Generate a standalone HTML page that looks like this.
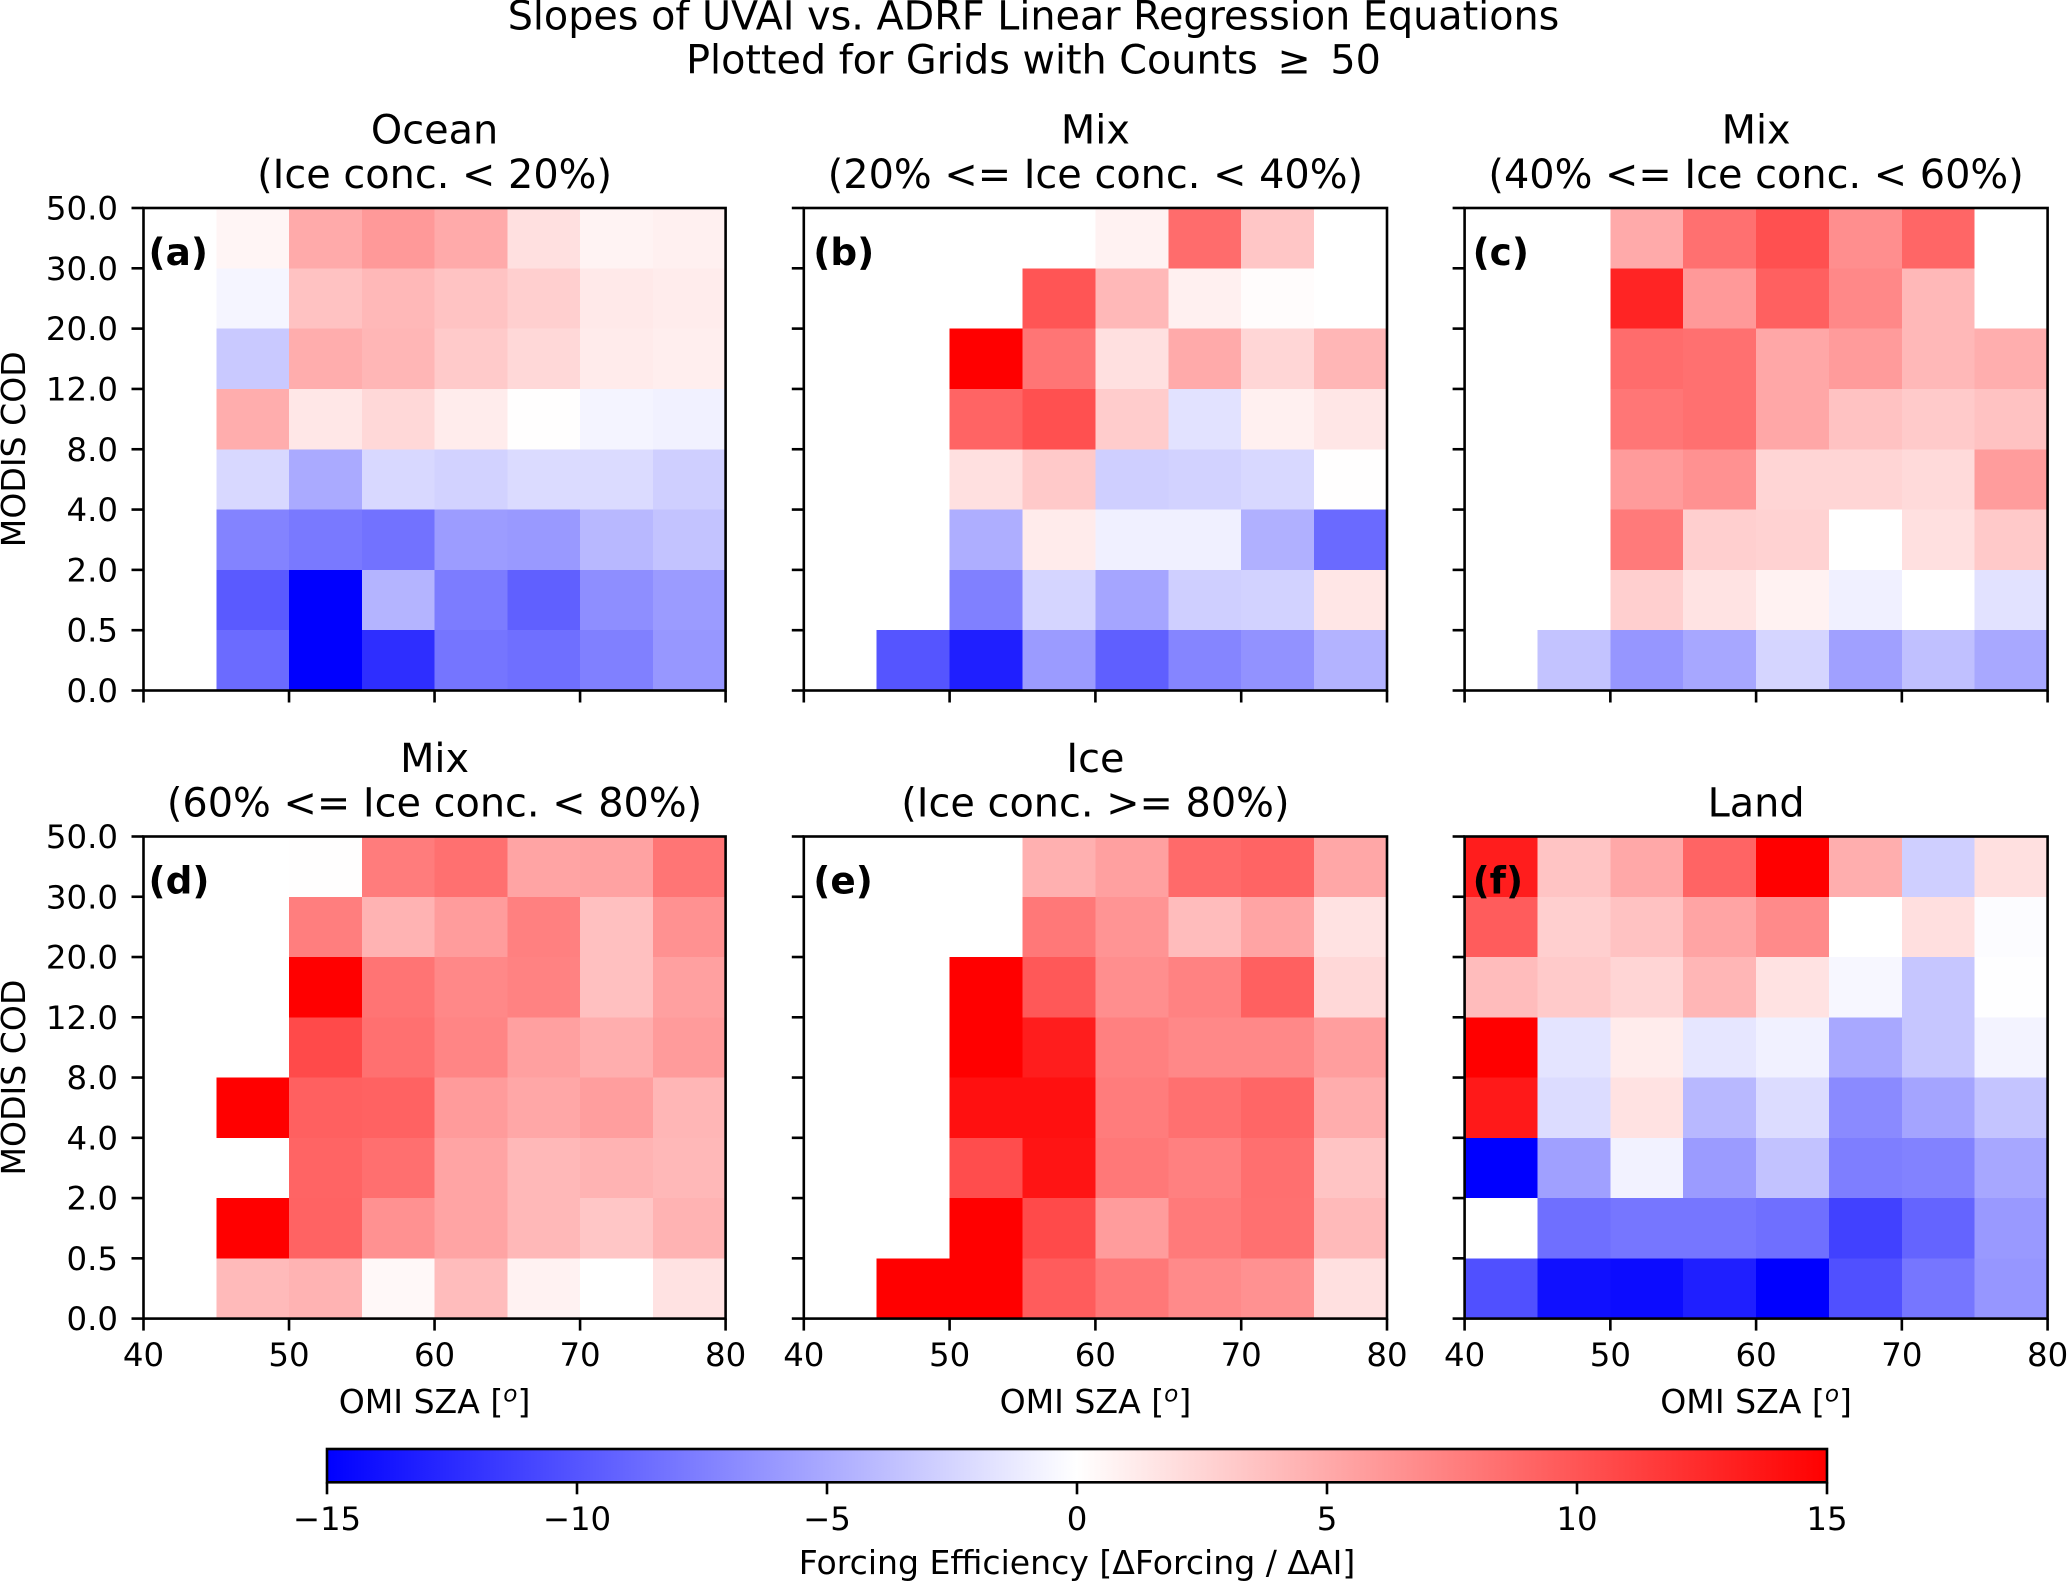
<!DOCTYPE html>
<html lang="en">
<head>
<meta charset="utf-8">
<title>Slopes of UVAI vs. ADRF Linear Regression Equations</title>
<style>
html,body{margin:0;padding:0;background:#fff;}
svg{display:block;font-family:"DejaVu Sans","Liberation Sans",sans-serif;fill:#000;}
</style>
</head>
<body>
<svg id="figure" xmlns="http://www.w3.org/2000/svg" width="2067" height="1582" viewBox="0 0 2067 1582">
  <rect x="0" y="0" width="2067" height="1582" fill="#fff"/>
  <text x="1033.5" y="29.5" font-size="39.7" text-anchor="middle">Slopes of UVAI vs. ADRF Linear Regression Equations</text>
  <text x="1033.5" y="73.5" font-size="39.7" text-anchor="middle">Plotted for Grids with Counts <tspan dx="7">≥</tspan> <tspan dx="7">50</tspan></text>
</svg>
<script>
const szaBins = [40, 45, 50, 55, 60, 65, 70, 75, 80];
const szaTicks = [40, 50, 60, 70, 80];
const codTicks = ['0.0', '0.5', '2.0', '4.0', '8.0', '12.0', '20.0', '30.0', '50.0'];
const colorbarTicks = [-15, -10, -5, 0, 5, 10, 15];
const _ = null;

// Each grid lists rows from the top COD bin (30-50) to the bottom COD bin (0-0.5).
const valuesOcean = [
  [_, 0.6, 5, 6, 5, 1.8, 0.7, 0.9],
  [_, -0.6, 3.6, 4.2, 3.5, 2.8, 1.3, 1.1],
  [_, -3.2, 4.8, 4.3, 3.1, 2.3, 1.2, 1],
  [_, 4.8, 1.4, 2.3, 1.1, 0.05, -0.65, -0.8],
  [_, -2.3, -5, -2.3, -2.65, -2.1, -2.1, -2.8],
  [_, -7.3, -7.9, -8.3, -5.8, -6, -4.2, -3.5],
  [_, -9.7, -15, -4.4, -7.7, -9.35, -6.65, -5.9],
  [_, -8.7, -15, -12.3, -8.1, -8.5, -7.5, -6.1]
];
const valuesMix2040 = [
  [_, _, _, _, 0.75, 8.65, 3.35, _],
  [_, _, _, 10, 4.2, 0.9, 0.2, _],
  [_, _, 15, 8.1, 1.8, 5, 2.4, 4.3],
  [_, _, 9.1, 10.3, 3, -1.7, 0.9, 1.5],
  [_, _, 1.8, 3.2, -2.8, -2.65, -2.3, 0.05],
  [_, _, -4.75, 1.2, -0.9, -0.9, -4.65, -8.75],
  [_, _, -7.5, -2.5, -5.3, -2.8, -2.65, 1.5],
  [_, -10, -13.2, -5.9, -9.4, -7.2, -6.4, -4.5]
];
const valuesMix4060 = [
  [_, _, 5, 8.4, 10.3, 6.65, 9, _],
  [_, _, 12.9, 6, 9.35, 7, 4.2, _],
  [_, _, 8.65, 8.4, 5.2, 5.9, 4.2, 4.75],
  [_, _, 8.05, 8.4, 5.2, 3.6, 3.1, 3.6],
  [_, _, 5.9, 6.5, 2.5, 2.5, 2.2, 5.8],
  [_, _, 7.8, 2.8, 2.65, 0, 1.8, 3.2],
  [_, _, 2.8, 1.65, 0.75, -0.9, 0, -1.7],
  [_, -3.5, -6.2, -5.2, -2.5, -5.6, -3.7, -5.1]
];
const valuesMix6080 = [
  [_, _, 0.05, 7.7, 8.4, 5.35, 5.45, 8.1],
  [_, _, 7.6, 4.5, 5.8, 7.5, 3.7, 6.5],
  [_, _, 15, 8.2, 7, 7.35, 3.7, 5.6],
  [_, _, 10.65, 8.4, 7.2, 5.6, 4.75, 5.9],
  [_, 15, 9.35, 9.25, 5.9, 5.2, 5.7, 4.3],
  [_, _, 9.1, 8.5, 5.35, 4.2, 4.5, 4.2],
  [_, 15, 9.2, 6.5, 5.35, 4.2, 3.35, 4.5],
  [_, 4.05, 4.5, 0.4, 3.95, 0.75, 0, 1.7]
];
const valuesIce = [
  [_, _, _, 4.65, 5.6, 8.75, 9.1, 5.2],
  [_, _, _, 7.95, 6.3, 3.95, 5.35, 1.7],
  [_, _, 15, 9.8, 6.65, 7.35, 9.35, 2.3],
  [_, _, 15, 13.3, 7.5, 7, 7, 5.7],
  [_, _, 14.05, 14.05, 7.7, 8.4, 9, 4.85],
  [_, _, 10.5, 13.8, 7.95, 7.5, 8.5, 3.45],
  [_, _, 15, 10.65, 5.8, 7.8, 8.4, 4.05],
  [_, 15, 15, 9.6, 7.95, 6.9, 6.5, 1.8]
];
const valuesLand = [
  [13.3, 3.45, 5.1, 9.1, 15, 4.75, -2.8, 1.8],
  [9.6, 2.8, 3.6, 5.35, 6.9, 0, 1.9, -0.15],
  [3.95, 3.1, 2.5, 4.3, 1.7, -0.5, -3.35, -0.05],
  [15, -1.6, 1.1, -1.5, -0.8, -5.1, -3.35, -0.7],
  [13.5, -2.05, 1.7, -4.2, -2.05, -6.9, -5.35, -3.45],
  [-15, -5.6, -0.75, -5.9, -3.6, -7.6, -7.35, -5.2],
  [_, -8.5, -8.05, -8.05, -8.5, -11.2, -9.1, -6],
  [-10.3, -14.05, -14.3, -13.2, -15, -10.3, -8.05, -6.2]
];
const panelTitlesTop = ['Ocean', 'Mix', 'Mix', 'Mix', 'Ice', ''];
const panelTitlesBottom = ['(Ice conc. < 20%)', '(20% <= Ice conc. < 40%)', '(40% <= Ice conc. < 60%)', '(60% <= Ice conc. < 80%)', '(Ice conc. >= 80%)', 'Land'];
const panelLetters = ['a', 'b', 'c', 'd', 'e', 'f'];
const panelGrids = [valuesOcean, valuesMix2040, valuesMix4060, valuesMix6080, valuesIce, valuesLand];

const SVGNS = 'http://www.w3.org/2000/svg';
const fig = document.getElementById('figure');
const columnFrames = [[143.5, 725.6], [803.8, 1387], [1464.6, 2047.6]];
const rowFrames = [[208, 690.5], [836.5, 1318.6]];
const letterInsets = [5, 9.5, 8];
const colorbarFrame = {left: 327, right: 1827, top: 1449, bottom: 1482.3};
const LINE = 2.6;
const TICK = 12;
const TICK_FONT = 32.4;
const LABEL_FONT = 33.1;
const TITLE_FONT = 39.8;

function bwr(v) {
  const t = Math.max(-1, Math.min(1, v / 15));
  const other = Math.round(255 * (1 - Math.abs(t)));
  return t >= 0 ? 'rgb(255,' + other + ',' + other + ')' : 'rgb(' + other + ',' + other + ',255)';
}
function addLine(parent, name, x1, y1, x2, y2) {
  const el = document.createElementNS(SVGNS, 'line');
  
  
  el.setAttribute('x1', x1);
  el.setAttribute('y1', y1);
  el.setAttribute('x2', x2);
  el.setAttribute('y2', y2);
  el.setAttribute('stroke', '#000');
  el.setAttribute('stroke-width', LINE);
  parent.appendChild(el);
  return el;
}
function addText(parent, name, x, y, str, size, anchor) {
  const el = document.createElementNS(SVGNS, 'text');
  
  
  el.setAttribute('x', x);
  el.setAttribute('y', y);
  el.setAttribute('font-size', size);
  el.setAttribute('text-anchor', anchor || 'middle');
  el.textContent = str;
  parent.appendChild(el);
  return el;
}
function addFrame(parent, name, x, y, w, h) {
  const el = document.createElementNS(SVGNS, 'rect');
  
  
  el.setAttribute('x', x);
  el.setAttribute('y', y);
  el.setAttribute('width', w);
  el.setAttribute('height', h);
  el.setAttribute('fill', 'none');
  el.setAttribute('stroke', '#000');
  el.setAttribute('stroke-width', LINE);
  parent.appendChild(el);
  return el;
}

panelGrids.forEach(function (grid, p) {
  const col = p % 3;
  const row = Math.floor(p / 3);
  const left = columnFrames[col][0];
  const right = columnFrames[col][1];
  const top = rowFrames[row][0];
  const bottom = rowFrames[row][1];
  const letter = panelLetters[p];
  const xScale = function (sza) { return left + (sza - 40) / 40 * (right - left); };
  const yScale = function (idx) { return bottom - idx / (codTicks.length - 1) * (bottom - top); };

  const g = document.createElementNS(SVGNS, 'g');
  
  
  fig.appendChild(g);

  grid.forEach(function (rowValues, r) {
    const binIndex = grid.length - 1 - r;
    rowValues.forEach(function (v, c) {
      if (v === null) return;
      const x0 = xScale(szaBins[c]);
      const x1 = xScale(szaBins[c + 1]);
      const y0 = yScale(binIndex + 1);
      const y1 = yScale(binIndex);
      const cell = document.createElementNS(SVGNS, 'rect');
      
      
      cell.setAttribute('x', x0);
      cell.setAttribute('y', y0);
      cell.setAttribute('width', x1 - x0);
      cell.setAttribute('height', y1 - y0);
      cell.setAttribute('fill', bwr(v));
      cell.setAttribute('shape-rendering', 'crispEdges');
      g.appendChild(cell);
    });
  });

  addFrame(g, 'axes-frame-' + letter, left, top, right - left, bottom - top);

  szaTicks.forEach(function (t) {
    const x = xScale(t);
    addLine(g, 'x-tick-' + letter + '-' + t, x, bottom, x, bottom + TICK);
    if (row === 1) {
      addText(g, 'x-tick-label-' + letter + '-' + t, x, bottom + 47.5, String(t), TICK_FONT);
    }
  });
  codTicks.forEach(function (t, i) {
    const y = yScale(i);
    addLine(g, 'y-tick-' + letter + '-' + t, left - TICK, y, left, y);
    if (col === 0) {
      addText(g, 'y-tick-label-' + letter + '-' + t, left - 25.5, y + 11.5, t, TICK_FONT, 'end');
    }
  });

  const cx = (left + right) / 2;
  if (panelTitlesTop[p]) {
    addText(g, 'panel-title-top-' + letter, cx, top - 64.5, panelTitlesTop[p], TITLE_FONT);
  }
  addText(g, 'panel-title-' + letter, cx, top - 19.8, panelTitlesBottom[p], TITLE_FONT);

  const tag = addText(g, 'panel-letter-' + letter, left + letterInsets[col], top + 57, '(' + letter + ')', 37.4, 'start');
  tag.setAttribute('font-weight', 'bold');

  if (row === 1) {
    const xl = addText(g, 'x-axis-title-' + letter, cx, bottom + 94.5, 'OMI SZA [', LABEL_FONT);
    const sup = document.createElementNS(SVGNS, 'tspan');
    sup.setAttribute('dy', '-11.5');
    sup.setAttribute('font-size', '23.2');
    sup.setAttribute('font-style', 'italic');
    sup.textContent = 'o';
    xl.appendChild(sup);
    const close = document.createElementNS(SVGNS, 'tspan');
    close.setAttribute('dy', '11.5');
    close.textContent = ']';
    xl.appendChild(close);
  }
  if (col === 0) {
    const cy = (top + bottom) / 2;
    const yl = addText(g, 'y-axis-title-' + letter, 25, cy, 'MODIS COD', LABEL_FONT);
    yl.setAttribute('transform', 'rotate(-90 25 ' + cy + ')');
  }
});

(function drawColorbar() {
  const f = colorbarFrame;
  const cbScale = function (v) { return f.left + (v + 15) / 30 * (f.right - f.left); };
  const g = document.createElementNS(SVGNS, 'g');
  
  
  fig.appendChild(g);

  const defs = document.createElementNS(SVGNS, 'defs');
  const grad = document.createElementNS(SVGNS, 'linearGradient');
  grad.setAttribute('id', 'bwrGradient');
  grad.setAttribute('x1', '0');
  grad.setAttribute('x2', '1');
  grad.setAttribute('y1', '0');
  grad.setAttribute('y2', '0');
  [-15, 0, 15].forEach(function (v) {
    const stop = document.createElementNS(SVGNS, 'stop');
    stop.setAttribute('offset', (v + 15) / 30);
    stop.setAttribute('stop-color', bwr(v));
    grad.appendChild(stop);
  });
  defs.appendChild(grad);
  g.appendChild(defs);

  const bar = document.createElementNS(SVGNS, 'rect');
  
  
  bar.setAttribute('x', cbScale(-15));
  bar.setAttribute('y', f.top);
  bar.setAttribute('width', cbScale(15) - cbScale(-15));
  bar.setAttribute('height', f.bottom - f.top);
  bar.setAttribute('fill', 'url(#bwrGradient)');
  g.appendChild(bar);

  addFrame(g, 'colorbar-frame', f.left, f.top, f.right - f.left, f.bottom - f.top);

  colorbarTicks.forEach(function (t) {
    const x = cbScale(t);
    addLine(g, 'colorbar-tick-' + t, x, f.bottom, x, f.bottom + TICK);
    addText(g, 'colorbar-tick-label-' + t, x, 1530, String(t).replace('-', '\u2212'), TICK_FONT);
  });
  addText(g, 'colorbar-title', (f.left + f.right) / 2, 1574, 'Forcing Efficiency [\u0394Forcing / \u0394AI]', LABEL_FONT);
})();
</script>
</body>
</html>
